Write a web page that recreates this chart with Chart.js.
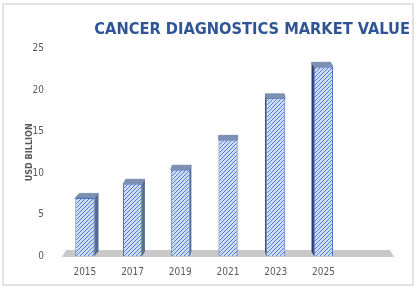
<!DOCTYPE html>
<html>
<head>
<meta charset="utf-8">
<script src="https://cdn.jsdelivr.net/npm/chart.js@4"></script>
<style>
  html, body { margin: 0; padding: 0; background: #fff; }
  #wrap { width: 416px; height: 288px; }
</style>
</head>
<body>
<div id="wrap"><canvas id="chart" width="416" height="288"></canvas></div>
<script>
// ---- data ----
const years = ["2015", "2017", "2019", "2021", "2023", "2025", ""];
const marketValue = [7.0, 8.7, 10.4, 14.0, 19.0, 22.8, null];
const yTicks = [0, 5, 10, 15, 20, 25];

const FONT = "'Liberation Sans Narrow', 'DejaVu Sans Condensed', 'Liberation Sans', sans-serif";

// diagonal hatch for the bar front faces
function hatch() {
    const c = document.createElement("canvas");
    c.width = 4; c.height = 4;
    const g = c.getContext("2d");
    g.fillStyle = "#cfdcf3";
    g.fillRect(0, 0, 4, 4);
    g.strokeStyle = "#4f7dcf";
    g.lineWidth = 1;
    g.beginPath();
    g.moveTo(-1, 5); g.lineTo(5, -1);
    g.moveTo(-1, 1); g.lineTo(1, -1);
    g.moveTo(3, 5); g.lineTo(5, 3);
    g.stroke();
    return g.createPattern(c, "repeat");
}

// frame, floor and the 3d sides of the bars
const depthPlugin = {
    id: "depth",
    afterLayout(chart) {
        // title sits further right than the plot area
        const t = chart.titleBlock;
        if (t) { t.right = 410; t.width = t.right - t.left; }
    },
    beforeDraw(chart) {
        const ctx = chart.ctx;
        ctx.save();
        ctx.strokeStyle = "#e2e2e2";
        ctx.lineWidth = 2;
        ctx.strokeRect(3, 4, 410, 281);
        ctx.restore();
    },
    beforeDatasetsDraw(chart) {
        const ctx = chart.ctx;
        const a = chart.chartArea;
        const base = chart.scales.y.getPixelForValue(0);
        ctx.save();
        // floor
        ctx.fillStyle = "#c9c9c9";
        ctx.beginPath();
        ctx.moveTo(a.left + 1, base + 1);
        ctx.lineTo(a.right - 1, base + 1);
        ctx.lineTo(a.right - 5, base - 6);
        ctx.lineTo(a.left + 5, base - 6);
        ctx.closePath();
        ctx.fill();

        const vp = (a.left + a.right) / 2 + 8;
        chart.getDatasetMeta(0).data.forEach((bar, i) => {
            if (marketValue[i] == null) return;
            const l = bar.x - bar.width / 2, r = bar.x + bar.width / 2;
            const top = bar.y, bot = bar.base;
            const dx = (vp - bar.x) * 0.027, dy = 4.5;
            // side
            ctx.fillStyle = dx > 0 ? "#56698e" : "#2f3d5c";
            const sx = dx > 0 ? r : l;
            ctx.beginPath();
            ctx.moveTo(sx, top);
            ctx.lineTo(sx + dx, top - dy);
            ctx.lineTo(sx + dx, bot - dy);
            ctx.lineTo(sx, bot);
            ctx.closePath();
            ctx.fill();
            // top
            ctx.fillStyle = "#7d8fb3";
            ctx.strokeStyle = "#6f84aa";
            ctx.lineWidth = 0.8;
            ctx.beginPath();
            ctx.moveTo(l, top);
            ctx.lineTo(l + dx, top - dy);
            ctx.lineTo(r + dx, top - dy);
            ctx.lineTo(r, top);
            ctx.closePath();
            ctx.fill();
            ctx.stroke();
        });
        ctx.restore();
    }
};

new Chart(document.getElementById("chart"), {
    type: "bar",
    data: {
        labels: years,
        datasets: [{
            data: marketValue,
            backgroundColor: hatch(),
            borderColor: "#4472c4",
            borderWidth: 1,
            barPercentage: 0.8,
            categoryPercentage: 0.5
        }]
    },
    options: {
        responsive: false,
        animation: false,
        layout: { padding: { left: 0, right: 21, top: 0, bottom: 0 } },
        plugins: {
            legend: { display: false },
            tooltip: { enabled: false },
            title: {
                display: true,
                text: "CANCER DIAGNOSTICS MARKET VALUE",
                align: "end",
                color: "#2f5597",
                font: { family: FONT, size: 16.3, weight: "bold" },
                padding: { top: 20, bottom: 9 }
            }
        },
        scales: {
            x: {
                grid: { display: false, drawTicks: false },
                border: { display: false },
                ticks: { color: "#595959", font: { family: FONT, size: 10 }, padding: 10 },
                afterFit: s => { s.height = 32; }
            },
            y: {
                min: 0,
                max: 25,
                grid: { display: false, drawTicks: false },
                border: { display: false },
                afterBuildTicks: s => { s.ticks = yTicks.map(v => ({ value: v })); },
                ticks: { color: "#595959", font: { family: FONT, size: 10 }, padding: 17 },
                title: {
                    display: true,
                    text: "USD BILLION",
                    color: "#595959",
                    font: { family: FONT, size: 9, weight: "bold" },
                    padding: { top: 24, bottom: 0 }
                },
                afterFit: s => { s.width = 61; }
            }
        }
    },
    plugins: [depthPlugin]
});
</script>
</body>
</html>
